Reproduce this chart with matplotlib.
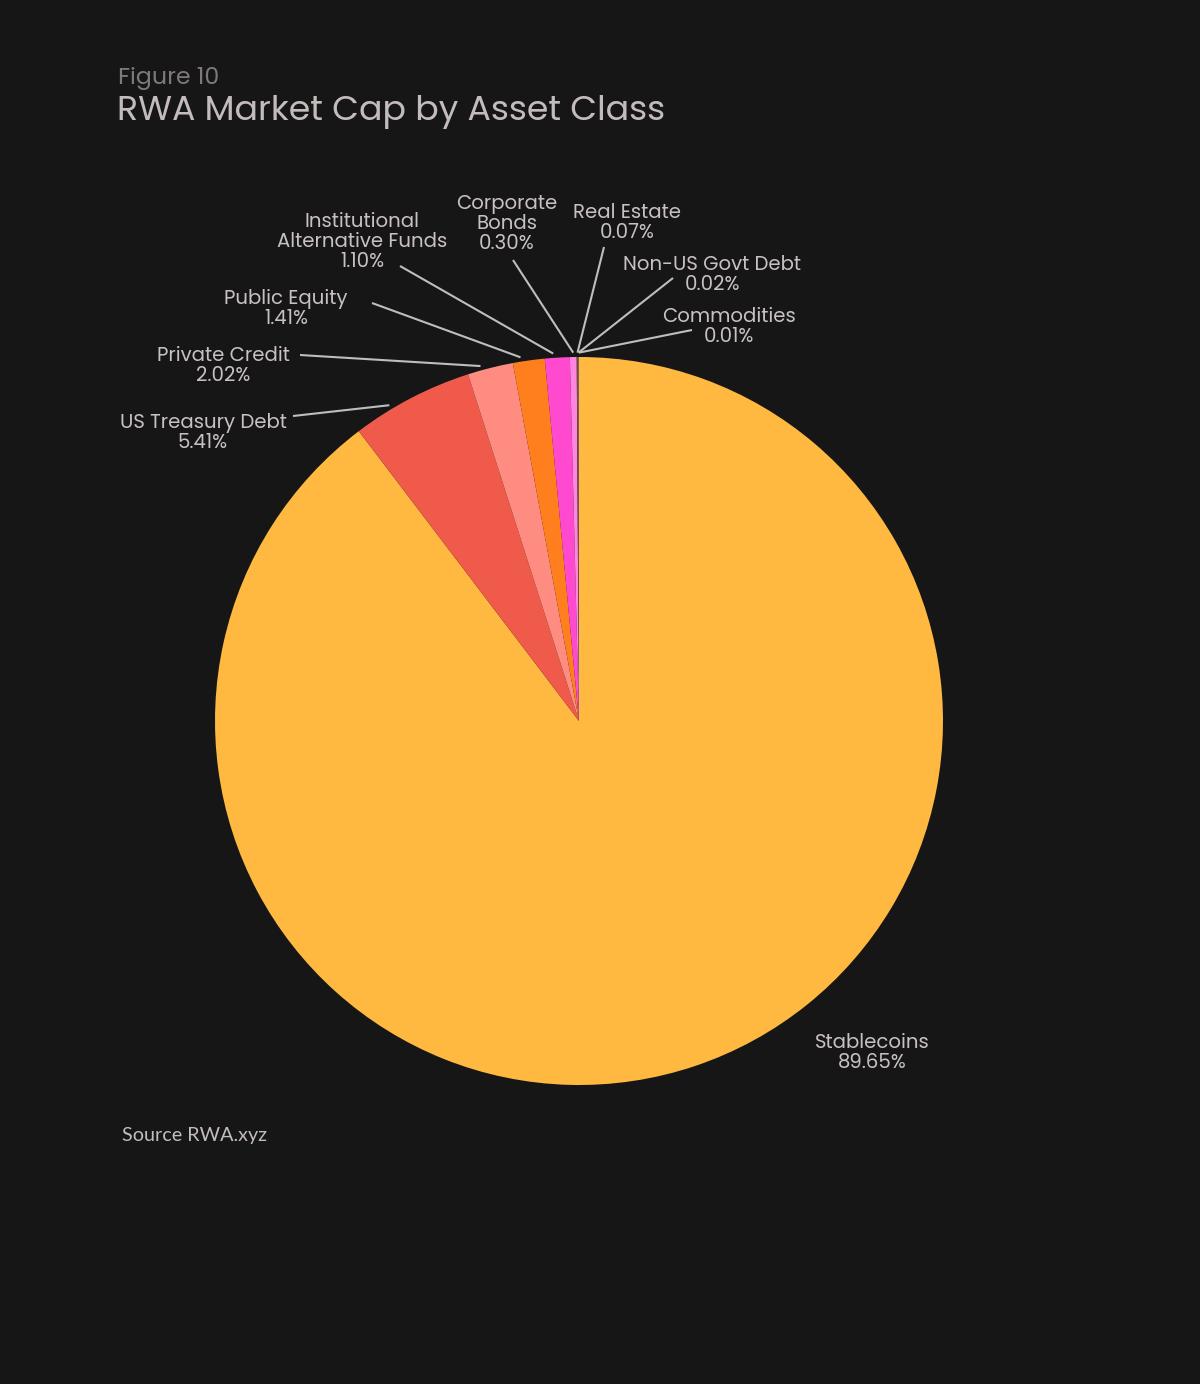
import matplotlib
matplotlib.use("Agg")
import matplotlib.pyplot as plt
import matplotlib.font_manager as fm
import numpy as np

categories = ["Stablecoins", "US Treasury Debt", "Private Credit", "Public Equity",
              "Institutional\nAlternative Funds", "Corporate\nBonds", "Real Estate",
              "Non-US Govt Debt", "Commodities"]
values = [89.65, 5.41, 2.02, 1.41, 1.10, 0.30, 0.07, 0.02, 0.01]
colors = ["#FFB940", "#F05A4B", "#FF8C80", "#FF7F1E", "#FF4ACF", "#FF85E0",
          "#7A4A3A", "#B08080", "#C0A0A0"]

BG = "#161616"
TXT = "#C9C1C1"

W, H = 1200, 1384
CX, CY, R = 579, 721, 364

fig = plt.figure(figsize=(12, 13.84), dpi=100, facecolor=BG)
ax = fig.add_axes([0, 0, 1, 1])
ax.set_facecolor(BG)

wedges, _ = ax.pie(values, colors=colors, startangle=90, counterclock=False,
                   radius=1.0, center=(0, 0), frame=True,
                   wedgeprops=dict(linewidth=0))
ax.set_xlim(-CX / R, (W - CX) / R)
ax.set_ylim(-(H - CY) / R, CY / R)
ax.set_aspect("equal")
ax.axis("off")

def px(x, y):
    return ((x - CX) / R, (CY - y) / R)

# label text centre (pixel), leader-line start (pixel), angle nudge within wedge (deg)
label_pos = [
    ((872, 1053), None, 0),
    ((203, 433), (293, 416), 3.5),
    ((223, 366), (300, 355), 1.4),
    ((286, 309), (372, 303), 1.2),
    ((362, 242), (400, 266), 0.6),
    ((507, 224), (513, 260), 0),
    ((627, 223), (604, 247), 0),
    ((712, 275), (673, 278), 0),
    ((729, 327), (692, 330), 0),
]

avail = {f.name for f in fm.fontManager.ttflist}
fam = [f for f in ["Poppins", "Noto Sans", "DejaVu Sans"] if f in avail]

for w, cat, val, (tp, lp, nudge) in zip(wedges, categories, values, label_pos):
    tx, ty = px(*tp)
    ax.text(tx, ty, f"{cat}\n{val:.2f}%", ha="center", va="center",
            color=TXT, fontsize=14.2, family=fam, linespacing=0.98)
    if lp is not None:
        ang = np.deg2rad((w.theta1 + w.theta2) / 2 + nudge)
        ex, ey = 1.012 * np.cos(ang), 1.012 * np.sin(ang)
        sx, sy = px(*lp)
        ax.plot([sx, ex], [sy, ey], color="#BEBEBE", lw=1.5, solid_capstyle="butt")

fig.text(118 / W, 1 - 78 / H, "Figure 10", color="#7E7878", fontsize=17,
         family=fam, va="center", ha="left")
fig.text(117 / W, 1 - 112 / H, "RWA Market Cap by Asset Class", color="#C4BCBC",
         fontsize=25.0, family=fam, va="center", ha="left")
fig.text(122 / W, 1 - 1136 / H, "Source RWA.xyz", color="#C4BCBC",
         fontsize=14.2, family=["Lato", "DejaVu Sans"], va="center", ha="left")

fig.savefig("out.png", dpi=100, facecolor=BG)
